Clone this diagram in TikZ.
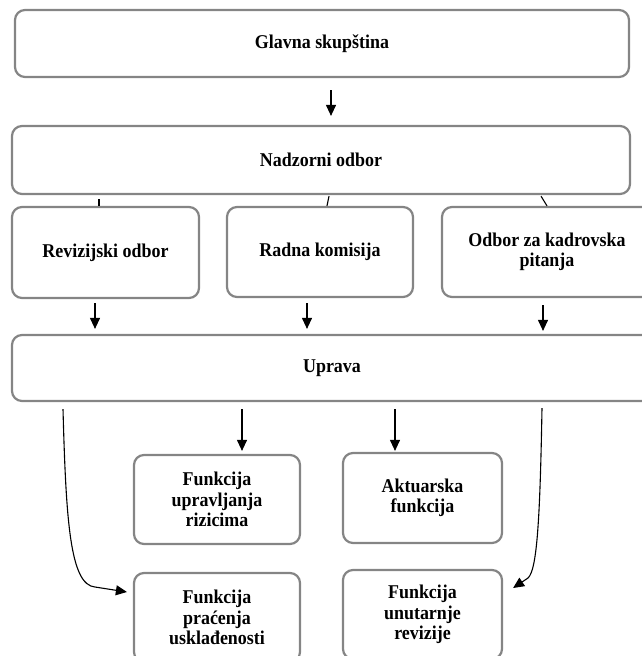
\documentclass[tikz,border=0pt]{standalone}
\usepackage{fontspec}
\setmainfont[FakeStretch=0.92]{Liberation Serif}
\usepackage{xcolor}
\usetikzlibrary{arrows.meta, calc}
\definecolor{boxgray}{HTML}{858585}

\begin{document}
\begin{tikzpicture}[
  x=1pt, y=-1pt,
  every node/.style={font=\bfseries\fontsize{19.5}{20.5}\selectfont},
  orgbox/.style={rectangle, rounded corners=10pt, draw=boxgray, line width=2.2pt, align=center, inner sep=0pt},
  link/.style={line width=1.1pt},
  arr/.style={-{Triangle[length=11pt,width=10pt]}, line width=1.1pt},
]
\useasboundingbox (0,0) rectangle (641,656);
\node[orgbox, minimum width=614pt, minimum height=67pt] (gs) at (322,43.5) {Glavna skupština};
\node[orgbox, minimum width=618pt, minimum height=68pt] (nb) at (321,160) {Nadzorni odbor};
\node[orgbox, minimum width=187pt, minimum height=91pt] (k1) at (105.5,252.5) {Revizijski odbor};
\node[orgbox, minimum width=186pt, minimum height=90pt] (k2) at (320,252) {Radna komisija};
\node[orgbox, minimum width=210pt, minimum height=90pt] (k3) at (547,252) {Odbor za kadrovska\\pitanja};
\node[orgbox, minimum width=640pt, minimum height=66pt] (up) at (332,368) {Uprava};
\node[orgbox, minimum width=166pt, minimum height=89pt] (f1) at (217,499.5) {Funkcija\\upravljanja\\rizicima};
\node[orgbox, minimum width=159pt, minimum height=90pt] (f2) at (422.5,498) {Aktuarska\\funkcija};
\node[orgbox, minimum width=166pt, minimum height=89pt] (f3) at (217,617.5) {Funkcija\\praćenja\\usklađenosti};
\node[orgbox, minimum width=159pt, minimum height=89pt] (f4) at (422.5,614.5) {Funkcija\\unutarnje\\revizije};
\draw[arr] ([xshift=9pt,yshift=-12pt]gs.south) -- ([xshift=10pt,yshift=9pt]nb.north);
\draw[link] ([xshift=-222pt,yshift=-4pt]nb.south) -- ([xshift=-6.5pt]k1.north);
\draw[link] ([xshift=8pt,yshift=-1pt]nb.south) -- ([xshift=7pt]k2.north);
\draw[link] ([xshift=220pt,yshift=-1pt]nb.south) -- (k3.north);
\draw[arr] ([xshift=-10.5pt,yshift=-4pt]k1.south) -- ([xshift=-237pt,yshift=5pt]up.north);
\draw[arr] ([xshift=-13pt,yshift=-5pt]k2.south) -- ([xshift=-25pt,yshift=5pt]up.north);
\draw[arr] ([xshift=-4pt,yshift=-7pt]k3.south) -- ([xshift=211pt,yshift=3pt]up.north);
\draw[arr] ([xshift=-90pt,yshift=-7pt]up.south) -- ([xshift=25pt,yshift=3pt]f1.north);
\draw[arr] ([xshift=63pt,yshift=-7pt]up.south) -- ([xshift=-27.5pt,yshift=1pt]f2.north);
\draw[arr] ([xshift=-269pt,yshift=-7pt]up.south) .. controls (66,520) and (70,585) .. (95,587) -- ([xshift=-6pt,yshift=25.5pt]f3.west);
\draw[arr] ([xshift=210pt,yshift=-6pt]up.south) .. controls (540,520) and (537,570) .. (528,578) -- ([xshift=10pt,yshift=26.5pt]f4.east);
\end{tikzpicture}
\end{document}
